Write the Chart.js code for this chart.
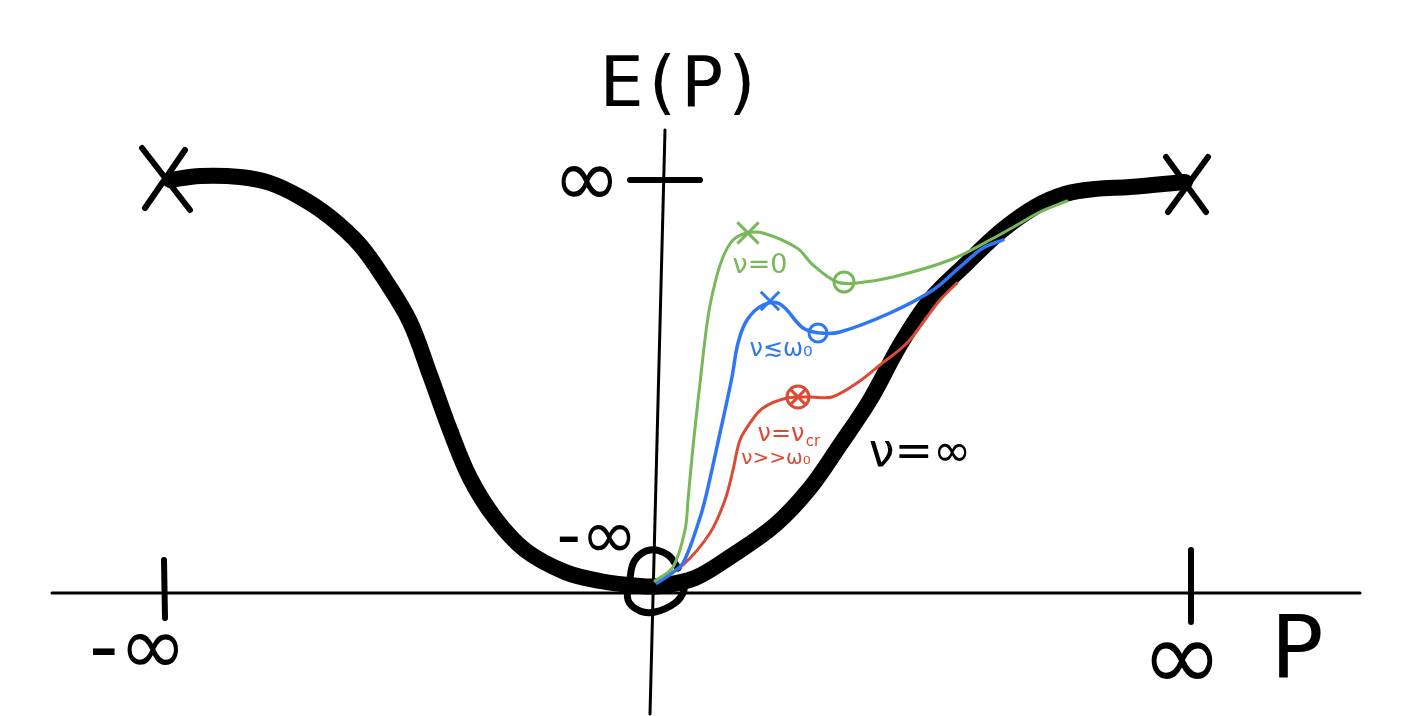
<!DOCTYPE html>
<html><head><meta charset="utf-8">
<script src="https://cdn.jsdelivr.net/npm/chart.js@4"></script>
<style>html,body{margin:0;padding:0;background:#fff;overflow:hidden}canvas{display:block}</style>
</head><body><canvas id="c" width="1418" height="716"></canvas>
<script>
// Values: P runs along the horizontal axis, E up the vertical one.
const infiniteP = [-482,-452,-412,-382,-352,-322,-292,-267,-242,-222,-202,-182,-157,-127,-87,-52,-12,8,43,78,123,158,188,218,248,278,313,348,383,413,443,478,533];
const infiniteE = [412,416,415,409,395,375,347,312,270,217,162,114,74,42,20,11,6,6,14,35,67,104,147,192,247,292,327,360,385,398,403,405,410];
const zeroP = [3,21,33,36,41,48,56,63,71,81,95,111,145,161,185,205,241,298,338,365,388,415];
const zeroE = [11,25,62,92,145,209,275,309,335,352,359,359,344,327,310,309,315,332,352,367,380,391];
const lowP = [5,20,31,45,53,68,80,86,95,111,128,151,168,188,238,281,308,331,351];
const lowE = [9,19,29,65,92,159,215,249,272,287,288,264,259,260,279,302,325,344,352];
const critP = [5,31,58,73,81,88,98,111,135,158,180,205,228,255,275,288,305];
const critE = [10,27,59,92,122,152,169,184,194,195,195,209,227,249,275,292,309];
const xAxisP = [-600,708]; const xAxisE = [-1,-1];
const yAxisP = [13,-2]; const yAxisE = [462,-122];
const tickP = [-488,-487,null,539,539,null,-22,48];
const tickE = [32,-26,null,42,-30,null,412,412];
const crossP = [-510,-462,null,-507,-467,null,514,554,null,556,516];
const crossE = [444,382,null,384,442,null,435,380,null,435,380];
const originP = [26,16,-2,-17,-22,-24,-12,3,23,32,29];
const originE = [24,37,42,32,14,-8,-19,-20,-11,2,12];
const circleMarksP = [192,166,146];
const circleMarksE = [310,259,195];
const circleSizes = [10,9,11];
const crossMarksP = [96,118,146];
const crossMarksE = [359,291,195];
const crossSizes = [15,13,10];
const labelTexts = ["E(P)","∞","-∞","-∞","∞","P","ν=∞","ν=0","ν≲ω₀","ν=ν","cr","ν>>ω₀"];
const labelP = [28,-65,-514,-55,530,645,268,108,129,129,161,124];
const labelE = [504,407,-61,52,-73,-63,138,326,242,157,150,133];
const labelSizes = [70,82,82,68,98,88,46,27,24,24,15,20];
const labelSpacing = [5,0,0,0,0,0,0,0,0,0,0,0];
const labelColors = ["#000","#000","#000","#000","#000","#000","#000","#78b85a","#2f76f5","#dc4a35","#dc4a35","#dc4a35"];
const green="#78b85a", blue="#2f76f5", red="#dc4a35";

const pts=(p,e)=>p.map((v,i)=>v===null?{x:null,y:null}:({x:v,y:e[i]}));
const line=(p,e,color,width,tension)=>({data:pts(p,e),showLine:true,borderColor:color,borderWidth:width,tension,pointRadius:0,fill:false,spanGaps:false,borderCapStyle:'round',borderJoinStyle:'round'});
const marks=(p,e,color,sizes,style,w)=>({data:pts(p,e),showLine:false,pointStyle:style,pointRadius:sizes,pointBorderColor:color,pointBackgroundColor:'transparent',pointBorderWidth:w});

const labelPlugin={id:'labels',afterDatasetsDraw(chart){
  const {ctx,scales:{x,y}}=chart;
  ctx.save();ctx.textAlign='center';ctx.textBaseline='middle';
  labelTexts.forEach((t,i)=>{
    ctx.font=`${labelSizes[i]}px "DejaVu Sans"`;
    ctx.letterSpacing=labelSpacing[i]+'px';
    ctx.fillStyle=labelColors[i];
    ctx.fillText(t,x.getPixelForValue(labelP[i]),y.getPixelForValue(labelE[i]));
  });
  ctx.restore();
}};

new Chart(document.getElementById('c'),{
  type:'scatter',
  data:{datasets:[
    marks(circleMarksP.slice(0,1),circleMarksE.slice(0,1),green,circleSizes[0],'circle',3),
    marks(crossMarksP.slice(0,1),crossMarksE.slice(0,1),green,crossSizes[0],'crossRot',3),
    marks(circleMarksP.slice(1,2),circleMarksE.slice(1,2),blue,circleSizes[1],'circle',3),
    marks(crossMarksP.slice(1,2),crossMarksE.slice(1,2),blue,crossSizes[1],'crossRot',3),
    marks(circleMarksP.slice(2),circleMarksE.slice(2),red,circleSizes[2],'circle',3),
    marks(crossMarksP.slice(2),crossMarksE.slice(2),red,crossSizes[2],'crossRot',3),
    line(zeroP,zeroE,green,3,0.35),
    line(lowP,lowE,blue,3.5,0.35),
    line(critP,critE,red,3,0.35),
    line(crossP,crossE,"#000",6,0),
    line(tickP,tickE,"#000",6,0),
    line(originP,originE,"#000",7,0.4),
    line(xAxisP,xAxisE,"#000",3,0),
    line(yAxisP,yAxisE,"#000",3,0),
    line(infiniteP,infiniteE,"#000",16,0.35)
  ]},
  plugins:[labelPlugin],
  options:{
    responsive:false,animation:false,
    layout:{padding:0,autoPadding:false},
    plugins:{legend:{display:false},tooltip:{enabled:false}},
    scales:{
      x:{type:'linear',min:-652,max:766,display:false},
      y:{type:'linear',min:-124,max:592,display:false}
    }
  }
});
</script></body></html>
